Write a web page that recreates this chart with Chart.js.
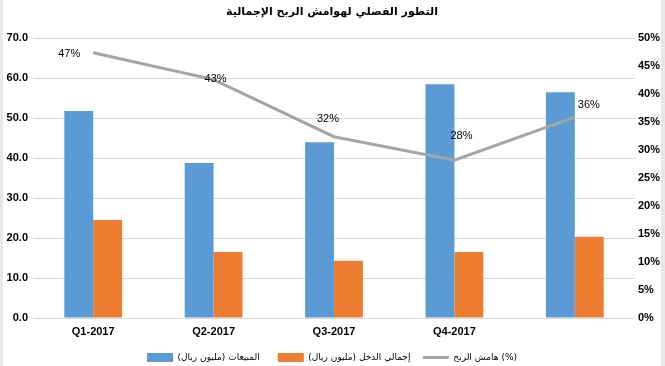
<!DOCTYPE html>
<html lang="ar">
<head>
<meta charset="UTF-8">
<title>التطور الفصلي لهوامش الربح الإجمالية</title>
<script src="https://cdn.jsdelivr.net/npm/chart.js"></script>
<style>
  html, body { margin: 0; padding: 0; background: #e8e8e8; }
  #wrap { position: absolute; left: 3px; top: 0; width: 658px; height: 366px; background: #fff; }
</style>
</head>
<body>
<div id="wrap"><canvas id="marginChart"></canvas></div>
<script>
const quarters = ['Q1-2017', 'Q2-2017', 'Q3-2017', 'Q4-2017', ''];
const sales = [51.8, 38.8, 44.0, 58.5, 56.5];
const grossIncome = [24.5, 16.5, 14.3, 16.5, 20.3];
const marginPct = [0.474, 0.426, 0.324, 0.282, 0.359];
const leftTicks = [0, 10, 20, 30, 40, 50, 60, 70];

// manual label nudges, like the moved labels in the original
const labelOffsets = [[-24, 1], [2, -1], [-6, -18], [7, -24], [14, -12]];

const arFont = "'DejaVu Sans', 'Liberation Sans', sans-serif";

const lineLabels = {
    id: 'lineLabels',
    afterDatasetsDraw(chart) {
        const meta = chart.getDatasetMeta(2);
        const ctx = chart.ctx;
        ctx.save();
        ctx.font = "11px 'Liberation Sans', sans-serif";
        ctx.fillStyle = '#000';
        ctx.textAlign = 'center';
        ctx.textBaseline = 'middle';
        meta.data.forEach((pt, i) => {
            const off = labelOffsets[i];
            ctx.fillText(Math.round(marginPct[i] * 100) + '%', pt.x + off[0], pt.y + off[1]);
        });
        ctx.restore();
    }
};

// extra room after each legend entry (legend padding is kept small so it sits low)
const legendGap = ['      ', '    ', ''];

const ctx = document.getElementById('marginChart').getContext('2d');
new Chart(ctx, {
    type: 'bar',
    data: {
        labels: quarters,
        datasets: [{
            label: 'المبيعات (مليون ريال)',
            data: sales,
            backgroundColor: '#5b9bd5',
            yAxisID: 'y',
            order: 2,
            categoryPercentage: 0.48,
            barPercentage: 1.0
        }, {
            label: 'إجمالي الدخل (مليون ريال)',
            data: grossIncome,
            backgroundColor: '#ed7d31',
            yAxisID: 'y',
            order: 2,
            categoryPercentage: 0.48,
            barPercentage: 1.0
        }, {
            type: 'line',
            label: 'هامش الربح (%)',
            data: marginPct,
            borderColor: '#a5a5a5',
            backgroundColor: '#a5a5a5',
            borderWidth: 3,
            pointRadius: 0,
            tension: 0,
            yAxisID: 'y1',
            order: 0
        }]
    },
    options: {
        responsive: true,
        maintainAspectRatio: false,
        animation: false,
        layout: { padding: { top: 6, bottom: -6, left: 0, right: 0 } },
        scales: {
            x: {
                afterFit(scale) { scale.height = 34; },
                grid: { display: false, drawTicks: false },
                border: { display: false },
                ticks: {
                    color: '#000',
                    font: { family: "'Liberation Sans', sans-serif", size: 11, weight: 'bold' },
                    padding: 7
                }
            },
            y: {
                position: 'left',
                min: 0,
                max: 70,
                afterBuildTicks(scale) { scale.ticks = leftTicks.map(v => ({ value: v })); },
                afterFit(scale) { scale.width = 30; },
                grid: { color: '#d9d9d9', drawTicks: false },
                border: { display: false },
                ticks: {
                    color: '#000',
                    padding: 5,
                    font: { family: "'Liberation Sans', sans-serif", size: 11, weight: 'bold' },
                    callback: v => v.toFixed(1)
                }
            },
            y1: {
                position: 'right',
                min: 0,
                max: 0.5,
                afterFit(scale) { scale.width = 26; },
                grid: { display: false, drawTicks: false },
                border: { display: false },
                ticks: {
                    stepSize: 0.05,
                    color: '#000',
                    padding: 3,
                    font: { family: "'Liberation Sans', sans-serif", size: 11, weight: 'bold' },
                    callback: v => Math.round(v * 100) + '%'
                }
            }
        },
        plugins: {
            title: {
                display: true,
                text: 'التطور الفصلي لهوامش الربح الإجمالية',
                color: '#000',
                font: { family: arFont, size: 11, weight: 'bold' },
                padding: { top: 0, bottom: 19 }
            },
            legend: {
                position: 'bottom',
                labels: {
                    color: '#000',
                    font: { family: arFont, size: 9 },
                    usePointStyle: true,
                    pointStyleWidth: 26,
                    boxHeight: 9,
                    padding: 1,
                    sort: (a, b) => a.datasetIndex - b.datasetIndex,
                    generateLabels(chart) {
                        const items = Chart.defaults.plugins.legend.labels.generateLabels(chart);
                        items.forEach(it => {
                            it.text = it.text + legendGap[it.datasetIndex];
                            if (it.datasetIndex === 2) {
                                it.pointStyle = 'line';
                                it.lineWidth = 3;
                                it.strokeStyle = '#a5a5a5';
                            } else {
                                it.pointStyle = 'rect';
                                it.lineWidth = 0;
                            }
                        });
                        return items;
                    }
                }
            },
            tooltip: { enabled: false }
        }
    },
    plugins: [lineLabels]
});
</script>
</body>
</html>
